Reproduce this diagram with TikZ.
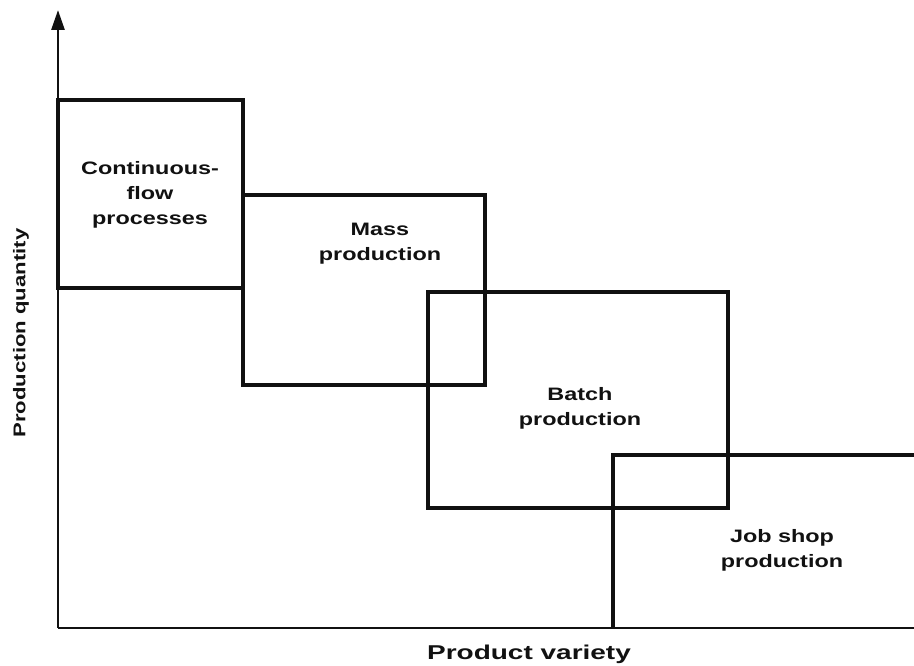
\documentclass[tikz,border=0pt]{standalone}
\usepackage{fontspec}
\setmainfont{Liberation Sans}
\newfontfamily\widesans[FakeStretch=1.3]{Liberation Sans}
\newfontfamily\widersans[FakeStretch=1.4]{Liberation Sans}
\usepackage{xcolor}
\definecolor{inkblack}{HTML}{111111}
\usetikzlibrary{arrows.meta, positioning}
\tikzset{
  axisline/.style={line width=2.8pt, color=inkblack},
  axisarr/.style ={-{Triangle[length=20pt, width=13pt]}, line width=2.8pt, color=inkblack},
  regbox/.style  ={line width=4.4pt, color=inkblack, line join=miter},
  reglbl/.style  ={font=\widesans\bfseries\fontsize{18}{25}\selectfont, text=inkblack, align=center, inner sep=0pt},
  ylbl/.style    ={font=\widesans\bfseries\fontsize{17}{20}\selectfont, text=inkblack, inner sep=0pt},
  xlbl/.style    ={font=\widersans\bfseries\fontsize{20}{22}\selectfont, text=inkblack, inner sep=0pt},
}
\begin{document}
\begin{tikzpicture}[x=1pt, y=-1pt]
  \useasboundingbox (0,0) rectangle (914,666);
  % axes
  \coordinate (o) at (58,628);
  \coordinate (ytop) at (58,10);
  \coordinate (xend) at (914,628);
  \draw[axisarr] (o) -- (ytop);
  \draw[axisline] (o) -- (xend);
  % production regions
  \draw[regbox] (58,100) rectangle (243,288);
  \draw[regbox] (243,195) rectangle (485,385);
  \draw[regbox] (428,292) rectangle (728,508);
  \draw[regbox] (914,455) -| (613,628);
  \node[reglbl] (cont) at (150,195) {Continuous-\\flow\\processes};
  \node[reglbl] (mass) at (380,244) {Mass\\production};
  \node[reglbl] (batch) at (580,408) {Batch\\production};
  \node[reglbl] (job) at (782,550) {Job shop\\production};
  % axis labels
  \node[ylbl, rotate=90] (yl) at (21,333) {Production quantity};
  \node[xlbl] (xl) at (529,654) {Product variety};
\end{tikzpicture}
\end{document}
